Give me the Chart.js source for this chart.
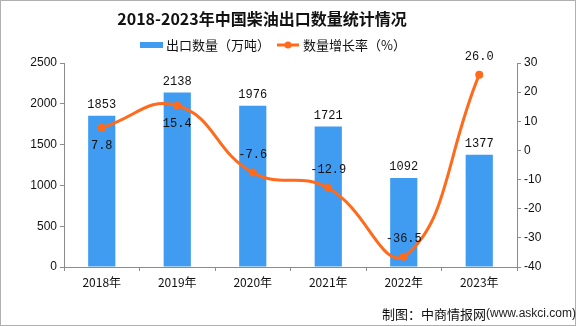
<!DOCTYPE html>
<html><head><meta charset="utf-8">
<script src="https://cdn.jsdelivr.net/npm/chart.js@4/dist/chart.umd.min.js"></script>
<style>html,body{margin:0;padding:0;background:#fff}#w{width:576px;height:326px;position:relative}</style>
</head><body><div id="w"><canvas id="c" width="576" height="326"></canvas></div>
<script>
const categories = ['2018年','2019年','2020年','2021年','2022年','2023年'];
const exportVolume = [1853, 2138, 1976, 1721, 1092, 1377];
const growthRate = [7.8, 15.4, -7.6, -12.9, -36.5, 26.0];
const leftTicks = [0, 500, 1000, 1500, 2000, 2500];
const rightTicks = [-40, -30, -20, -10, 0, 10, 20, 30];
const titleText = '2018-2023年中国柴油出口数量统计情况';
const seriesNames = ['出口数量（万吨）', '数量增长率（%）'];
const sourceText = '制图：中商情报网';
const sourceUrl = '(www.askci.com)';
const growthLabelAbove = [false, false, true, true, true, true];

const BAR = '#3f9cf0', LINE = '#ff6a1c', AXIS = '#8c8c8c';
const CJK = '"Noto Sans CJK SC", sans-serif';
const NUM = '"Liberation Mono", "DejaVu Sans Mono", monospace';

const decor = {
  id: 'decor',
  afterDraw(chart) {
    const ctx = chart.ctx;
    ctx.save();
    ctx.strokeStyle = '#b0b0b0'; ctx.lineWidth = 1;
    ctx.strokeRect(0.5, 0.5, 575, 325);
    ctx.fillStyle = '#111';
    ctx.font = 'bold 16px ' + CJK;
    ctx.textAlign = 'center'; ctx.textBaseline = 'middle';
    ctx.fillText(titleText, 262, 19);
    ctx.font = '13px ' + CJK;
    ctx.textAlign = 'left';
    ctx.fillStyle = BAR; ctx.fillRect(140, 42, 23, 6);
    ctx.fillStyle = '#111'; ctx.fillText(seriesNames[0], 166, 45);
    ctx.strokeStyle = LINE; ctx.lineWidth = 3;
    ctx.beginPath(); ctx.moveTo(277, 45); ctx.lineTo(299, 45); ctx.stroke();
    ctx.fillStyle = LINE; ctx.beginPath(); ctx.arc(288, 45, 3.5, 0, Math.PI * 2); ctx.fill();
    ctx.fillStyle = '#111'; ctx.fillText(seriesNames[1], 303, 45);
    ctx.textAlign = 'center'; ctx.font = '12px ' + NUM; ctx.fillStyle = '#111';
    const m0 = chart.getDatasetMeta(0), m1 = chart.getDatasetMeta(1);
    m0.data.forEach((el, i) => { ctx.fillText(String(exportVolume[i]), el.x, el.y - 11); });
    m1.data.forEach((el, i) => {
      const t = growthRate[i].toFixed(1);
      ctx.fillText(t, el.x, el.y + (growthLabelAbove[i] ? -18 : 18));
    });
    ctx.textAlign = 'left';
    ctx.font = '13px ' + CJK; ctx.fillStyle = '#111';
    ctx.fillText(sourceText, 382, 314);
    const w = ctx.measureText(sourceText).width;
    ctx.font = '12px "Liberation Sans", Arial, sans-serif'; ctx.fillStyle = '#222';
    ctx.fillText(sourceUrl, 382 + w, 314);
    ctx.restore();
  }
};

new Chart(document.getElementById('c'), {
  data: {
    labels: categories,
    datasets: [
      { type: 'bar', data: exportVolume, backgroundColor: BAR, yAxisID: 'y', order: 2,
        categoryPercentage: 0.36, barPercentage: 1 },
      { type: 'line', data: growthRate, yAxisID: 'y1', order: 1, borderColor: LINE, borderWidth: 3,
        backgroundColor: LINE, pointRadius: 4, pointBackgroundColor: LINE, pointBorderWidth: 0,
        tension: 0.45, cubicInterpolationMode: 'default' }
    ]
  },
  options: {
    responsive: false, animation: false, devicePixelRatio: 1,
    layout: { padding: { top: 63, right: 0, left: 0, bottom: 0 } },
    plugins: { legend: { display: false }, title: { display: false }, tooltip: { enabled: false } },
    scales: {
      x: {
        offset: true,
        grid: { display: true, drawOnChartArea: false, offset: true, color: AXIS, tickLength: 4 },
        border: { color: AXIS, width: 1 },
        ticks: { color: '#111', font: { family: CJK, size: 12 }, padding: 4, maxRotation: 0 },
        afterFit(s) { s.height = 59; }
      },
      y: {
        position: 'left', min: 0, max: 2500,
        afterBuildTicks(s) { s.ticks = leftTicks.map(v => ({ value: v })); },
        grid: { display: true, drawOnChartArea: false, color: AXIS, tickLength: 4 },
        border: { color: AXIS, width: 1 },
        ticks: { color: '#111', font: { family: '"Liberation Sans", Arial, sans-serif', size: 12 }, padding: 3,
          callback: v => String(v) },
        afterFit(s) { s.width = 64; }
      },
      y1: {
        position: 'right', min: -40, max: 30,
        afterBuildTicks(s) { s.ticks = rightTicks.map(v => ({ value: v })); },
        grid: { display: true, drawOnChartArea: false, color: AXIS, tickLength: 4 },
        border: { color: AXIS, width: 1 },
        ticks: { color: '#111', font: { family: '"Liberation Sans", Arial, sans-serif', size: 12 }, padding: 3,
          callback: v => String(v) },
        afterFit(s) { s.width = 59; }
      }
    }
  },
  plugins: [decor]
});
</script></body></html>
